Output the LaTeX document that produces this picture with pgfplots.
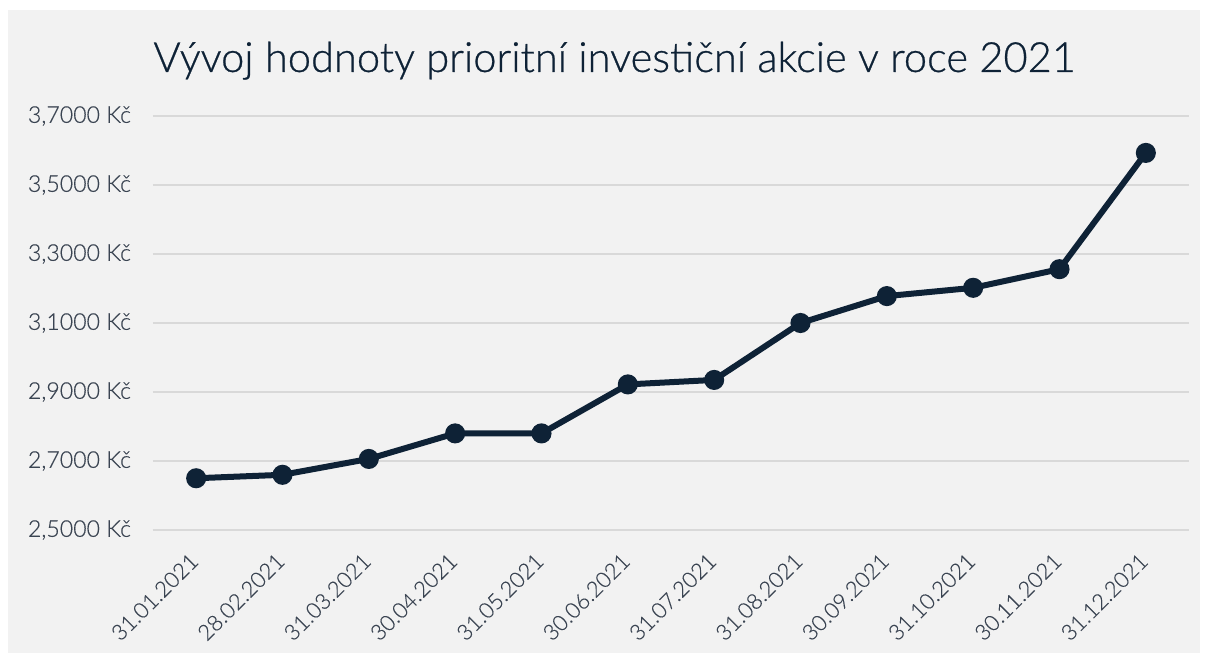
\documentclass[border=0pt]{standalone}
\usepackage{pgfplots}
\pgfplotsset{compat=1.18}
\usepackage{fontspec}
\setmainfont{Lato}
\IfFontExistsTF{Lato Light}{%
  \newfontfamily\lightfont{Lato Light}[FakeBold=0.4]%
  \newfontfamily\titlefont{Lato Light}[FakeBold=0.6]}{%
  \newfontfamily\lightfont{Lato}\newfontfamily\titlefont{Lato}}
\definecolor{bg}{HTML}{F2F2F2}
\definecolor{navy}{HTML}{0E2236}
\definecolor{ticktext}{HTML}{3A4452}
\definecolor{gridc}{HTML}{D9D9D9}
\begin{document}
\begin{tikzpicture}
\fill[white] (-76.5bp,-65bp) rectangle (527.5bp,265bp);
\fill[bg] (-72.5bp,-61.5bp) rectangle (523.5bp,260bp);
\begin{axis}[at={(0,0)}, anchor=south west, scale only axis,
  width=518bp, height=207bp,
  xmin=-0.5, xmax=11.5, ymin=2.5, ymax=3.7,
  clip=false,
  axis lines*=left,
  axis line style={-},
  x axis line style={draw=gridc, line width=0.75bp},
  y axis line style={draw=none},
  xtick={0,...,11},
  xticklabels={31.01.2021,28.02.2021,31.03.2021,30.04.2021,31.05.2021,30.06.2021,31.07.2021,31.08.2021,30.09.2021,31.10.2021,30.11.2021,31.12.2021},
  x tick style={draw=none},
  extra x ticks={-0.5,0.5,...,11.5},
  extra x tick labels={},
  extra x tick style={grid=none, tick align=outside, major tick length=3.5bp,
     tick style={draw=gridc, line width=0.75bp}},
  ytick={2.5,2.7,2.9,3.1,3.3,3.5,3.7},
  yticklabels={{2,5000 Kč},{2,7000 Kč},{2,9000 Kč},{3,1000 Kč},{3,3000 Kč},{3,5000 Kč},{3,7000 Kč}},
  y tick style={draw=none},
  ymajorgrids,
  grid style={draw=gridc, line width=0.75bp},
  yticklabel style={font=\lightfont\fontsize{11.6}{14}\selectfont, text=ticktext, anchor=east, xshift=-7.5bp},
  xticklabel style={font=\lightfont\fontsize{11}{13}\selectfont, text=ticktext, xshift=1.5bp, yshift=-11.2bp, rotate=45, anchor=east},
]
\addplot[navy, line width=3bp, mark=*, mark size=3.5bp, mark options={fill=navy, draw=navy}] coordinates {
(0,2.650) (1,2.660) (2,2.706) (3,2.780) (4,2.780) (5,2.922) (6,2.935)
(7,3.100) (8,3.178) (9,3.202) (10,3.256) (11,3.593)
};
\end{axis}
\node[anchor=base west, font=\titlefont\fontsize{20.9}{25}\selectfont, text=navy, inner sep=0] at (0bp,229bp) {Vývoj hodnoty prioritní investiční akcie v roce 2021};
\end{tikzpicture}
\end{document}
